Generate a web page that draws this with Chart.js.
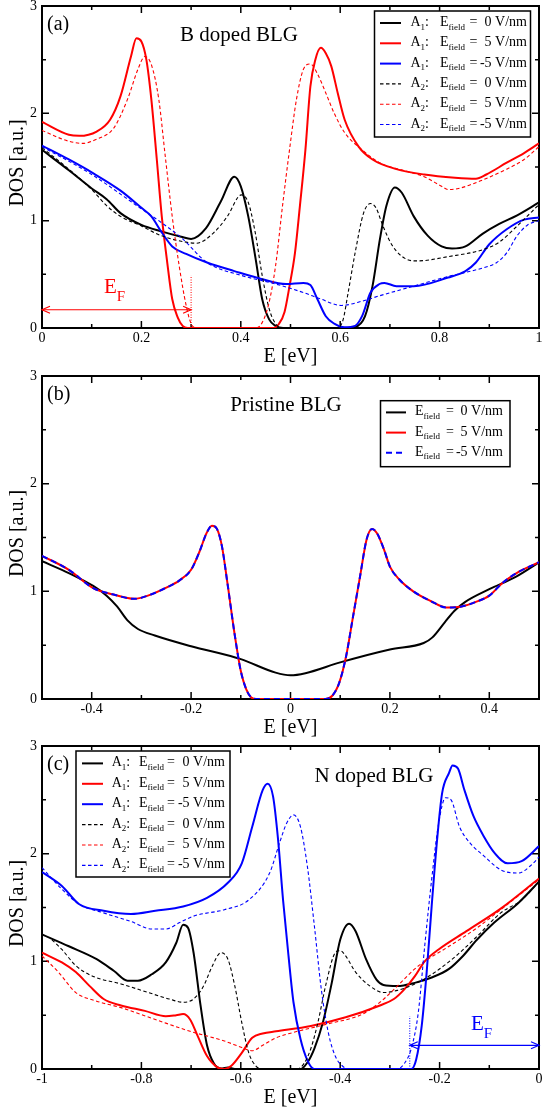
<!DOCTYPE html>
<html>
<head>
<meta charset="utf-8">
<script src="https://cdn.jsdelivr.net/npm/chart.js@4"></script>
<style>
  html, body { margin: 0; padding: 0; background: #fff; }
  canvas { display: block; }
</style>
</head>
<body>
<canvas id="dosB" width="542" height="370"></canvas>
<canvas id="dosP" width="542" height="370"></canvas>
<canvas id="dosN" width="542" height="373"></canvas>
<script>
const FONT = "'Liberation Serif', 'Times New Roman', serif";
const BLACK = '#000000', RED = '#ff0000', BLUE = '#0000ff';

// ---------- (a) B doped BLG ----------
const eB_A1_0 = [0, 0.054, 0.1, 0.13, 0.158, 0.2, 0.24, 0.28, 0.3, 0.33, 0.36, 0.387, 0.4, 0.415, 0.43, 0.443, 0.457, 0.47, 0.485, 0.6, 0.63, 0.65, 0.665, 0.68, 0.693, 0.71, 0.724, 0.748, 0.776, 0.804, 0.825, 0.852, 0.887, 0.92, 0.956, 1.0];
const dosB_A1_0 = [1.66, 1.47, 1.3, 1.2, 1.07, 0.96, 0.9, 0.85, 0.83, 0.93, 1.18, 1.41, 1.32, 1.04, 0.64, 0.27, 0.08, 0.02, 0, 0, 0.01, 0.11, 0.39, 0.83, 1.14, 1.31, 1.26, 1.04, 0.86, 0.76, 0.74, 0.76, 0.88, 0.97, 1.05, 1.17];
const eB_A1_5 = [0, 0.054, 0.075, 0.11, 0.137, 0.158, 0.179, 0.19, 0.2, 0.21, 0.22, 0.231, 0.241, 0.252, 0.262, 0.273, 0.283, 0.293, 0.464, 0.477, 0.488, 0.498, 0.509, 0.519, 0.53, 0.54, 0.55, 0.561, 0.571, 0.582, 0.595, 0.609, 0.637, 0.665, 0.713, 0.769, 0.831, 0.873, 0.894, 0.935, 0.97, 1.0];
const dosB_A1_5 = [1.92, 1.80, 1.79, 1.83, 1.94, 2.16, 2.53, 2.70, 2.67, 2.5, 2.13, 1.57, 1.04, 0.61, 0.27, 0.1, 0.02, 0, 0, 0.04, 0.15, 0.39, 0.70, 1.14, 1.66, 2.25, 2.5, 2.61, 2.56, 2.44, 2.19, 1.94, 1.69, 1.57, 1.48, 1.43, 1.40, 1.39, 1.43, 1.54, 1.63, 1.72];
const eB_A1_m5 = [0, 0.054, 0.1, 0.158, 0.2, 0.22, 0.241, 0.262, 0.29, 0.332, 0.387, 0.443, 0.491, 0.526, 0.54, 0.554, 0.571, 0.588, 0.609, 0.63, 0.644, 0.661, 0.679, 0.689, 0.713, 0.748, 0.817, 0.852, 0.873, 0.9, 0.935, 0.97, 1.0];
const dosB_A1_m5 = [1.70, 1.57, 1.45, 1.28, 1.12, 1.04, 0.89, 0.76, 0.69, 0.61, 0.53, 0.455, 0.41, 0.42, 0.40, 0.27, 0.11, 0.04, 0.006, 0.02, 0.11, 0.33, 0.41, 0.42, 0.39, 0.39, 0.47, 0.53, 0.61, 0.78, 0.92, 1.01, 1.03];
const eB_A2_0 = [0, 0.054, 0.1, 0.13, 0.158, 0.2, 0.24, 0.29, 0.311, 0.346, 0.373, 0.401, 0.415, 0.429, 0.443, 0.457, 0.47, 0.485, 0.595, 0.606, 0.616, 0.63, 0.647, 0.661, 0.672, 0.686, 0.706, 0.734, 0.755, 0.817, 0.887, 0.92, 0.956, 1.0];
const dosB_A2_0 = [1.68, 1.48, 1.29, 1.14, 1.04, 0.95, 0.86, 0.80, 0.79, 0.89, 1.04, 1.24, 1.17, 0.89, 0.49, 0.18, 0.04, 0, 0, 0.08, 0.33, 0.70, 1.07, 1.16, 1.12, 0.95, 0.76, 0.64, 0.625, 0.665, 0.73, 0.80, 0.95, 1.15];
const eB_A2_5 = [0, 0.054, 0.082, 0.11, 0.144, 0.172, 0.193, 0.207, 0.221, 0.235, 0.248, 0.262, 0.276, 0.29, 0.3, 0.311, 0.429, 0.443, 0.457, 0.47, 0.484, 0.498, 0.512, 0.526, 0.54, 0.554, 0.571, 0.588, 0.609, 0.644, 0.679, 0.734, 0.769, 0.804, 0.817, 0.838, 0.887, 0.935, 0.97, 1.0];
const dosB_A2_5 = [1.84, 1.74, 1.72, 1.76, 1.86, 2.13, 2.41, 2.53, 2.44, 2.13, 1.60, 1.04, 0.58, 0.21, 0.04, 0, 0, 0.05, 0.24, 0.58, 1.14, 1.66, 2.13, 2.41, 2.46, 2.37, 2.19, 2.0, 1.82, 1.66, 1.54, 1.46, 1.41, 1.32, 1.29, 1.30, 1.38, 1.48, 1.57, 1.69];
const eB_A2_m5 = [0, 0.1, 0.2, 0.241, 0.283, 0.332, 0.401, 0.47, 0.526, 0.561, 0.602, 0.644, 0.679, 0.748, 0.817, 0.887, 0.915, 0.935, 0.956, 0.977, 1.0];
const dosB_A2_m5 = [1.69, 1.43, 1.11, 0.98, 0.83, 0.61, 0.49, 0.41, 0.33, 0.27, 0.21, 0.25, 0.30, 0.39, 0.48, 0.56, 0.61, 0.70, 0.86, 0.96, 1.0];
const efB = 0.3; // Fermi level, B doped

// ---------- (b) pristine BLG ----------
const eP_0 = [-0.5, -0.446, -0.397, -0.37, -0.349, -0.328, -0.307, -0.273, -0.2, -0.1, -0.03, 0, 0.03, 0.1, 0.2, 0.268, 0.285, 0.31, 0.33, 0.351, 0.4, 0.455, 0.5];
const dosP_0 = [1.28, 1.17, 1.05, 0.96, 0.86, 0.73, 0.65, 0.59, 0.49, 0.37, 0.245, 0.22, 0.24, 0.34, 0.46, 0.52, 0.57, 0.71, 0.82, 0.90, 1.02, 1.14, 1.27];
// +5 and -5 V/nm give the same curve
const eP_5 = [-0.5, -0.446, -0.397, -0.356, -0.314, -0.287, -0.252, -0.224, -0.2, -0.183, -0.169, -0.158, -0.148, -0.138, -0.127, -0.113, -0.1, -0.089, -0.079, -0.068, 0.07, 0.084, 0.098, 0.112, 0.126, 0.14, 0.153, 0.164, 0.174, 0.188, 0.2, 0.219, 0.247, 0.282, 0.313, 0.344, 0.372, 0.4, 0.427, 0.455, 0.5];
const dosP_5 = [1.33, 1.20, 1.03, 0.97, 0.93, 0.96, 1.03, 1.10, 1.20, 1.37, 1.54, 1.61, 1.58, 1.42, 1.08, 0.62, 0.26, 0.09, 0.015, 0, 0, 0.03, 0.15, 0.40, 0.77, 1.14, 1.48, 1.58, 1.54, 1.39, 1.23, 1.11, 1.00, 0.91, 0.85, 0.86, 0.90, 0.96, 1.08, 1.17, 1.27];

// ---------- (c) N doped BLG ----------
const eN_A1_0 = [-1, -0.946, -0.89, -0.855, -0.828, -0.807, -0.779, -0.751, -0.73, -0.716, -0.706, -0.695, -0.681, -0.668, -0.654, -0.64, -0.626, -0.612, -0.48, -0.466, -0.452, -0.435, -0.417, -0.4, -0.382, -0.369, -0.348, -0.327, -0.313, -0.285, -0.25, -0.216, -0.181, -0.153, -0.125, -0.09, -0.042, 0];
const dosN_A1_0 = [1.25, 1.14, 1.02, 0.91, 0.82, 0.82, 0.88, 0.99, 1.17, 1.34, 1.31, 1.08, 0.59, 0.22, 0.05, 0.005, 0.015, 0, 0, 0.06, 0.19, 0.43, 0.80, 1.20, 1.35, 1.28, 1.02, 0.83, 0.78, 0.77, 0.80, 0.85, 0.93, 1.05, 1.20, 1.36, 1.54, 1.74];
const eN_A1_5 = [-1, -0.96, -0.932, -0.904, -0.876, -0.841, -0.793, -0.751, -0.73, -0.716, -0.702, -0.688, -0.668, -0.647, -0.633, -0.619, -0.598, -0.577, -0.556, -0.529, -0.459, -0.389, -0.32, -0.292, -0.271, -0.25, -0.23, -0.202, -0.146, -0.077, 0];
const dosN_A1_5 = [1.08, 0.99, 0.90, 0.77, 0.65, 0.59, 0.54, 0.49, 0.50, 0.51, 0.46, 0.32, 0.12, 0.015, 0, 0.03, 0.15, 0.29, 0.33, 0.35, 0.40, 0.48, 0.59, 0.65, 0.74, 0.86, 1.00, 1.11, 1.28, 1.49, 1.77];
const eN_A1_m5 = [-1, -0.96, -0.925, -0.876, -0.821, -0.772, -0.716, -0.668, -0.626, -0.598, -0.577, -0.556, -0.546, -0.535, -0.525, -0.515, -0.504, -0.494, -0.48, -0.466, -0.452, -0.257, -0.247, -0.236, -0.226, -0.216, -0.205, -0.195, -0.181, -0.174, -0.163, -0.15, -0.132, -0.111, -0.09, -0.063, -0.035, 0];
const dosN_A1_m5 = [1.83, 1.70, 1.53, 1.47, 1.44, 1.47, 1.51, 1.59, 1.73, 1.91, 2.25, 2.59, 2.65, 2.53, 2.13, 1.57, 1.05, 0.62, 0.28, 0.08, 0, 0, 0.09, 0.40, 0.90, 1.51, 2.13, 2.56, 2.75, 2.82, 2.79, 2.59, 2.35, 2.16, 2.01, 1.91, 1.93, 2.07];
const eN_A2_0 = [-0.98, -0.96, -0.932, -0.897, -0.841, -0.786, -0.744, -0.716, -0.695, -0.675, -0.657, -0.64, -0.626, -0.612, -0.598, -0.584, -0.57, -0.556, -0.487, -0.473, -0.459, -0.445, -0.428, -0.41, -0.4, -0.389, -0.369, -0.34, -0.313, -0.285, -0.25, -0.209, -0.167, -0.125, -0.077, -0.035, 0];
const dosN_A2_0 = [1.20, 1.11, 0.96, 0.86, 0.79, 0.71, 0.65, 0.62, 0.65, 0.77, 0.96, 1.08, 1.02, 0.77, 0.43, 0.15, 0.03, 0, 0, 0.05, 0.19, 0.43, 0.80, 1.08, 1.10, 1.05, 0.90, 0.77, 0.71, 0.73, 0.79, 0.90, 1.05, 1.23, 1.45, 1.57, 1.74];
const eN_A2_5 = [-1, -0.967, -0.932, -0.89, -0.841, -0.772, -0.702, -0.633, -0.598, -0.577, -0.556, -0.529, -0.494, -0.424, -0.355, -0.32, -0.285, -0.25, -0.23, -0.181, -0.125, -0.077, 0];
const dosN_A2_5 = [1.05, 0.90, 0.71, 0.63, 0.57, 0.46, 0.35, 0.26, 0.20, 0.17, 0.22, 0.29, 0.34, 0.42, 0.51, 0.62, 0.77, 0.93, 1.00, 1.14, 1.31, 1.48, 1.76];
const eN_A2_m5 = [-1, -0.96, -0.925, -0.876, -0.821, -0.779, -0.751, -0.723, -0.695, -0.633, -0.584, -0.542, -0.522, -0.508, -0.494, -0.48, -0.466, -0.452, -0.438, -0.424, -0.41, -0.396, -0.382, -0.285, -0.271, -0.257, -0.243, -0.23, -0.216, -0.202, -0.188, -0.177, -0.16, -0.139, -0.111, -0.077, -0.042, -0.014, 0];
const dosN_A2_m5 = [1.87, 1.67, 1.53, 1.45, 1.37, 1.30, 1.30, 1.36, 1.42, 1.48, 1.57, 1.82, 2.10, 2.28, 2.36, 2.25, 1.88, 1.33, 0.74, 0.34, 0.12, 0.03, 0, 0, 0.05, 0.19, 0.52, 1.14, 1.76, 2.28, 2.52, 2.50, 2.25, 2.10, 1.98, 1.85, 1.82, 1.90, 1.97];
const efN = -0.26; // Fermi level, N doped

// tick labels and legend text
const ticksB = [0, 0.2, 0.4, 0.6, 0.8, 1];
const ticksP = [-0.4, -0.2, 0, 0.2, 0.4];
const ticksN = [-1, -0.8, -0.6, -0.4, -0.2, 0];
const ticksDOS = [0, 1, 2, 3];
const sites = ['1', '1', '1', '2', '2', '2'];
const fields6 = ['0', '5', '-5', '0', '5', '-5'];
const fields3 = ['0', '5', '-5'];

function curve(e, dos, color, dash, width) {
  return {
    data: e.map((x, i) => ({ x: x, y: dos[i] })),
    borderColor: color,
    borderWidth: width || (dash ? 1.1 : 2),
    borderDash: dash || [],
    pointRadius: 0,
    fill: false,
    cubicInterpolationMode: 'monotone'
  };
}
const DASH = [3.5, 2.5];

// text with a subscript, returns x after it
function subText(ctx, main, sub, x, base, size, subSize, drop) {
  ctx.font = size + 'px ' + FONT;
  ctx.fillText(main, x, base);
  x += ctx.measureText(main).width;
  ctx.font = subSize + 'px ' + FONT;
  ctx.fillText(sub, x, base + drop);
  return x + ctx.measureText(sub).width;
}

const decor = {
  id: 'decor',
  // frame and inward ticks go under the curves
  beforeDatasetsDraw(chart) {
    const { ctx, chartArea: a, scales: { x, y } } = chart;
    ctx.save();
    ctx.strokeStyle = '#000'; ctx.lineWidth = 1.5;
    ctx.beginPath();
    for (let k = 0; ; k++) {
      const v = x.min + k * 0.1;
      if (v > x.max + 1e-9) break;
      const major = Math.abs(v / 0.2 - Math.round(v / 0.2)) < 1e-6;
      const len = major ? 7 : 4;
      const px = x.getPixelForValue(v);
      ctx.moveTo(px, a.bottom); ctx.lineTo(px, a.bottom - len);
      ctx.moveTo(px, a.top); ctx.lineTo(px, a.top + len);
    }
    for (let k = 0; ; k++) {
      const v = y.min + k * 0.5;
      if (v > y.max + 1e-9) break;
      const len = Number.isInteger(v) ? 7 : 4;
      const py = y.getPixelForValue(v);
      ctx.moveTo(a.left, py); ctx.lineTo(a.left + len, py);
      ctx.moveTo(a.right, py); ctx.lineTo(a.right - len, py);
    }
    ctx.stroke();
    ctx.lineWidth = 2;
    ctx.strokeRect(a.left, a.top, a.right - a.left, a.bottom - a.top);
    ctx.restore();
  },
  afterDatasetsDraw(chart, args, o) {
    const { ctx, chartArea: a, scales: { x, y } } = chart;
    ctx.save();
    ctx.textAlign = 'left';
    ctx.textBaseline = 'alphabetic';

    // Fermi level marker
    if (o.ef) {
      const f = o.ef;
      const px = x.getPixelForValue(f.value);
      const py = y.getPixelForValue(f.level);
      const x0 = x.getPixelForValue(f.from), x1 = x.getPixelForValue(f.to);
      ctx.strokeStyle = f.color; ctx.fillStyle = f.color;
      ctx.lineWidth = 1;
      ctx.setLineDash([1, 1.5]);
      ctx.beginPath(); ctx.moveTo(px, a.bottom); ctx.lineTo(px, y.getPixelForValue(f.top)); ctx.stroke();
      ctx.setLineDash([]);
      ctx.lineWidth = 1.2;
      ctx.beginPath(); ctx.moveTo(x0, py); ctx.lineTo(x1, py); ctx.stroke();
      [[x0, 1], [x1, -1]].forEach(([ax, d]) => {
        ctx.beginPath();
        ctx.moveTo(ax + d * 8, py - 3.5); ctx.lineTo(ax, py); ctx.lineTo(ax + d * 8, py + 3.5);
        ctx.stroke();
      });
      subText(ctx, 'E', 'F', f.labelX, f.labelY, 21, 15, 8);
    }

    // legend
    if (o.legend) {
      const L = o.legend;
      ctx.fillStyle = '#fff';
      ctx.fillRect(L.x, L.y, L.w, L.h);
      ctx.strokeStyle = '#000'; ctx.lineWidth = 1.5;
      ctx.strokeRect(L.x, L.y, L.w, L.h);
      chart.data.datasets.forEach((ds, i) => {
        const base = L.y0 + i * L.dy;
        ctx.save();
        ctx.strokeStyle = ds.borderColor;
        ctx.lineWidth = ds.borderWidth;
        ctx.setLineDash(ds.borderDash);
        ctx.beginPath(); ctx.moveTo(L.line[0], base - 3); ctx.lineTo(L.line[1], base - 3); ctx.stroke();
        ctx.restore();
        ctx.fillStyle = '#000';
        if (L.sites) {
          const xs = subText(ctx, 'A', L.sites[i], L.siteX, base, 14, 9, 3.5);
          ctx.font = '14px ' + FONT;
          ctx.fillText(':', xs, base);
        }
        subText(ctx, 'E', 'field', L.fieldX, base, 14, 9, 3.5);
        ctx.font = '14px ' + FONT;
        ctx.fillText('=', L.eqX, base);
        ctx.textAlign = 'right';
        ctx.fillText(L.fields[i] + ' V/nm', L.endX, base);
        ctx.textAlign = 'left';
      });
    }

    // panel tag and title
    ctx.fillStyle = '#000';
    ctx.font = '20px ' + FONT;
    ctx.fillText(o.tag, a.left + 5, a.top + 24);
    ctx.font = '21px ' + FONT;
    ctx.textAlign = 'center';
    ctx.fillText(o.title, o.titleX, a.top + o.titleDy);

    // axis titles
    ctx.font = '20px ' + FONT;
    ctx.fillText('E [eV]', (a.left + a.right) / 2, a.bottom + 34);
    ctx.save();
    ctx.translate(22.5, (a.top + a.bottom) / 2 - 4);
    ctx.rotate(-Math.PI / 2);
    ctx.fillText('DOS [a.u.]', 0, 0);
    ctx.restore();
    ctx.restore();
  }
};

function panel(id, xmin, xmax, xticks, xAxisH, datasets, deco) {
  return new Chart(document.getElementById(id), {
    type: 'line',
    data: { datasets: datasets.map((d, i) => Object.assign(d, { order: -i })) },
    options: {
      responsive: false,
      devicePixelRatio: 1,
      animation: false,
      events: [],
      layout: { padding: { top: 6, right: 3, bottom: 0, left: 0 } },
      scales: {
        x: {
          type: 'linear', min: xmin, max: xmax,
          grid: { display: false, drawTicks: false },
          border: { display: false },
          afterBuildTicks: s => { s.ticks = xticks.map(v => ({ value: v })); },
          afterFit: s => { s.height = xAxisH; s.paddingLeft = 0; s.paddingRight = 0; },
          ticks: {
            color: '#000', padding: 2, maxRotation: 0, autoSkip: false,
            font: { family: FONT, size: 14 },
            callback: v => String(Number(v.toFixed(1)))
          }
        },
        y: {
          type: 'linear', min: 0, max: 3,
          grid: { display: false, drawTicks: false },
          border: { display: false },
          afterBuildTicks: s => { s.ticks = ticksDOS.map(v => ({ value: v })); },
          afterFit: s => { s.width = 42; s.paddingTop = 0; s.paddingBottom = 0; },
          ticks: {
            color: '#000', padding: 5,
            font: { family: FONT, size: 14 },
            callback: v => String(v)
          }
        }
      },
      plugins: {
        legend: { display: false },
        tooltip: { enabled: false },
        decor: deco
      }
    },
    plugins: [decor]
  });
}

panel('dosB', 0, 1, ticksB, 42, [
  curve(eB_A1_0, dosB_A1_0, BLACK),
  curve(eB_A1_5, dosB_A1_5, RED),
  curve(eB_A1_m5, dosB_A1_m5, BLUE),
  curve(eB_A2_0, dosB_A2_0, BLACK, DASH),
  curve(eB_A2_5, dosB_A2_5, RED, DASH),
  curve(eB_A2_m5, dosB_A2_m5, BLUE, DASH)
], {
  tag: '(a)', title: 'B doped BLG', titleX: 239, titleDy: 35,
  legend: { x: 374.5, y: 11, w: 156, h: 126, y0: 26, dy: 20.3, line: [380, 401],
            siteX: 410.5, fieldX: 440, eqX: 469.5, endX: 527, sites: sites, fields: fields6 },
  ef: { value: efB, from: 0, to: efB, level: 0.17, top: 0.49, color: RED, labelX: 104, labelY: 293 }
});

panel('dosP', -0.5, 0.5, ticksP, 41, [
  curve(eP_0, dosP_0, BLACK),
  curve(eP_5, dosP_5, RED),
  curve(eP_5, dosP_5, BLUE, [6, 4], 2)
], {
  tag: '(b)', title: 'Pristine BLG', titleX: 286, titleDy: 35,
  legend: { x: 380.5, y: 30.7, w: 129.5, h: 66, y0: 45.4, dy: 20.2, line: [386, 406],
            fieldX: 415, eqX: 446, endX: 503, fields: fields3 }
});

panel('dosN', -1, 0, ticksN, 44, [
  curve(eN_A1_0, dosN_A1_0, BLACK),
  curve(eN_A1_5, dosN_A1_5, RED),
  curve(eN_A1_m5, dosN_A1_m5, BLUE),
  curve(eN_A2_0, dosN_A2_0, BLACK, DASH),
  curve(eN_A2_5, dosN_A2_5, RED, DASH),
  curve(eN_A2_m5, dosN_A2_m5, BLUE, DASH)
], {
  tag: '(c)', title: 'N doped BLG', titleX: 374, titleDy: 36,
  legend: { x: 76, y: 11, w: 154, h: 126, y0: 26.4, dy: 20.4, line: [82, 103],
            siteX: 111.7, fieldX: 139, eqX: 167, endX: 225, sites: sites, fields: fields6 },
  ef: { value: efN, from: efN, to: 0, level: 0.22, top: 0.49, color: BLUE, labelX: 471, labelY: 290 }
});
</script>
</body>
</html>
